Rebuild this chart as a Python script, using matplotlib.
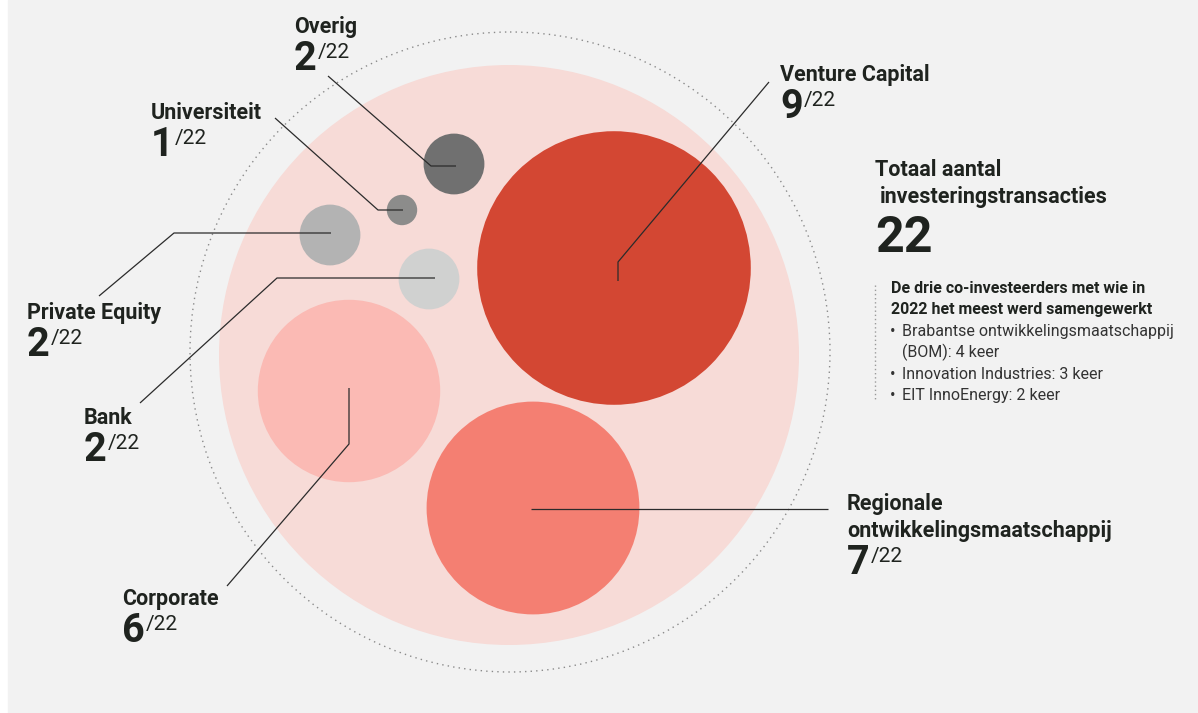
import matplotlib.pyplot as plt
from matplotlib.patches import Circle, Rectangle

# data
categories = ['Venture Capital', 'Regionale\nontwikkelingsmaatschappij', 'Corporate',
              'Overig', 'Private Equity', 'Bank', 'Universiteit']
counts = [9, 7, 6, 2, 2, 2, 1]
total = 22
co_title = 'De drie co-investeerders met wie in\n2022 het meest werd samengewerkt'
co_items = ['Brabantse ontwikkelingsmaatschappij\n(BOM): 4 keer',
            'Innovation Industries: 3 keer',
            'EIT InnoEnergy: 2 keer']

# layout (pixel space, y pointing down)
colors = ['#d34733', '#f47f72', '#fbbab4', '#707070', '#b3b3b3', '#d0d1d0', '#8c8c8b']
centers = [(614, 268), (533, 508), (349, 391), (454, 164), (330, 235), (429, 279), (402, 210)]
px_per_count = 15.2
label_pos = [(780, 81), (847, 510), (122, 605), (294, 33), (27, 319), (84, 424), (151, 119)]
leaders = [
    [(769, 82), (618, 262), (618, 281)],
    [(828, 509), (531, 509)],
    [(227, 586), (349, 444), (349, 388)],
    [(328, 76), (431, 166), (456, 166)],
    [(99, 296), (174, 233), (331, 233)],
    [(140, 403), (277, 278), (435, 278)],
    [(275, 118), (378, 210), (403, 210)],
]

TXT = '#1f231f'
FONT = 'Roboto'

fig = plt.figure(figsize=(11.98, 7.13), dpi=100)
ax = fig.add_axes([0, 0, 1, 1])
ax.set_xlim(0, 1198)
ax.set_ylim(713, 0)
ax.axis('off')

ax.add_patch(Rectangle((8, 0), 1190, 713, color='#f2f2f2', zorder=0))

# outer rings
ax.add_patch(Circle((509, 355), 290, color='#f7dbd7', zorder=1, lw=0))
ax.add_patch(Circle((510, 352), 320, fill=False, ec='#8a8a8a', lw=1.0,
                    ls=(0, (1, 3)), zorder=1))

for c, n, col in zip(centers, counts, colors):
    ax.add_patch(Circle(c, n * px_per_count, color=col, lw=0, zorder=2))

for path in leaders:
    xs, ys = zip(*path)
    ax.plot(xs, ys, color='#2b2b2b', lw=0.9, zorder=3, solid_capstyle='butt')

# labels
for name, n, (x, y) in zip(categories, counts, label_pos):
    yb = y
    for i, line in enumerate(name.split('\n')):
        yb = y + 27 * i
        ax.text(x, yb, line, fontsize=15.5, fontweight='bold', color=TXT,
                family=FONT, va='baseline', ha='left', zorder=4)
    yb += 37
    ax.text(x, yb, str(n), fontsize=28.5, fontweight='bold', color=TXT,
            family=FONT, va='baseline', ha='left', zorder=4)
    ax.text(x + 24, yb - 12, f'/{total}', fontsize=15, color=TXT,
            family=FONT, va='baseline', ha='left', zorder=4)

# total block
ax.text(875, 176, 'Totaal aantal', fontsize=15.5, fontweight='bold', color=TXT,
        family=FONT, va='baseline')
ax.text(880, 203, 'investeringstransacties', fontsize=15.5, fontweight='bold', color=TXT,
        family=FONT, va='baseline')
ax.text(875, 252, str(total), fontsize=36, fontweight='bold', color=TXT,
        family=FONT, va='baseline')

# co-investor block
ax.plot([875, 875], [285, 399], color='#9a9a9a', lw=1, ls=(0, (1, 2)))
yy = 293
step = 21.4
for line in co_title.split('\n'):
    ax.text(891, yy, line, fontsize=11.5, fontweight='bold', color=TXT,
            family=FONT, va='baseline')
    yy += step
for item in co_items:
    for i, line in enumerate(item.split('\n')):
        if i == 0:
            ax.text(890, yy, '•', fontsize=12, color='#333333', family=FONT, va='baseline')
        ax.text(902, yy, line, fontsize=11.5, color='#333333', family=FONT, va='baseline')
        yy += step

fig.savefig('out.png', dpi=100)
